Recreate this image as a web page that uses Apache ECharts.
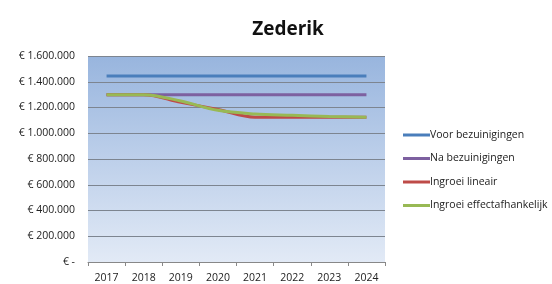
<!DOCTYPE html>
<html>
<head>
<meta charset="utf-8">
<script src="https://cdn.jsdelivr.net/npm/echarts@6/dist/echarts.min.js"></script>
<style>
html,body{margin:0;padding:0;background:#fff;}
#main{width:552px;height:284px;}
</style>
</head>
<body>
<div id="main"></div>
<script>
// jaren op de x-as
var jaren = ['2017', '2018', '2019', '2020', '2021', '2022', '2023', '2024'];
// reeksen
var voorBezuinigingen = [1445000, 1445000, 1445000, 1445000, 1445000, 1445000, 1445000, 1445000];
var naBezuinigingen = [1300000, 1300000, 1300000, 1300000, 1300000, 1300000, 1300000, 1300000];
var ingroeiLineair = [1300000, 1300000, 1240000, 1185000, 1125000, 1125000, 1125000, 1125000];
var ingroeiEffect = [1300000, 1300000, 1250000, 1178000, 1150000, 1140000, 1130000, 1125000];
// labels y-as
var yLabels = ['€ -', '€ 200.000', '€ 400.000', '€ 600.000', '€ 800.000', '€ 1.000.000', '€ 1.200.000', '€ 1.400.000', '€ 1.600.000'];

var font = '"Open Sans", Lato, sans-serif';
var chart = echarts.init(document.getElementById('main'));

function lijn(naam, data, kleur) {
	return {
		name: naam, type: 'line', data: data, smooth: 0.35,
		symbol: 'none', lineStyle: { width: 3, color: kleur }, itemStyle: { color: kleur }
	};
}

chart.setOption({
	animation: false,
	title: {
		text: 'Zederik', left: 283, top: 15, textAlign: 'center',
		textStyle: { fontFamily: font, fontWeight: 'bold', fontSize: 19, color: '#111' }
	},
	grid: {
		left: 88, right: 167, top: 56, bottom: 22, show: true, borderWidth: 0,
		backgroundColor: {
			type: 'linear', x: 0, y: 0, x2: 0, y2: 1,
			colorStops: [{ offset: 0, color: '#98b5de' }, { offset: 1, color: '#e2eaf6' }]
		}
	},
	legend: {
		orient: 'vertical', left: 398, top: 123, itemGap: 9.5,
		icon: 'rect', itemWidth: 27, itemHeight: 3,
		textStyle: { fontFamily: font, fontSize: 10.5, color: '#222', padding: [0, 0, 0, -5], lineHeight: 14 }
	},
	xAxis: {
		type: 'category', data: jaren, boundaryGap: true,
		axisLine: { lineStyle: { color: '#888' } },
		axisTick: { show: true, length: 4, lineStyle: { color: '#888' } },
		axisLabel: { fontFamily: font, fontSize: 10.5, color: '#222', margin: 11 }
	},
	yAxis: {
		type: 'value', min: 0, max: 1600000, interval: 200000,
		axisLine: { show: false }, axisTick: { show: false },
		splitLine: { lineStyle: { color: '#7d8590', width: 1 } },
		axisLabel: {
			fontFamily: font, fontSize: 10.5, color: '#222', margin: 13,
			formatter: function (v) { return yLabels[Math.round(v / 200000)]; }
		}
	},
	series: [
		lijn('Voor bezuinigingen', voorBezuinigingen, '#4a7ebb'),
		lijn('Na bezuinigingen', naBezuinigingen, '#7d60a0'),
		lijn('Ingroei lineair', ingroeiLineair, '#be4b48'),
		lijn('Ingroei effectafhankelijk', ingroeiEffect, '#98b954')
	]
});
</script>
</body>
</html>
